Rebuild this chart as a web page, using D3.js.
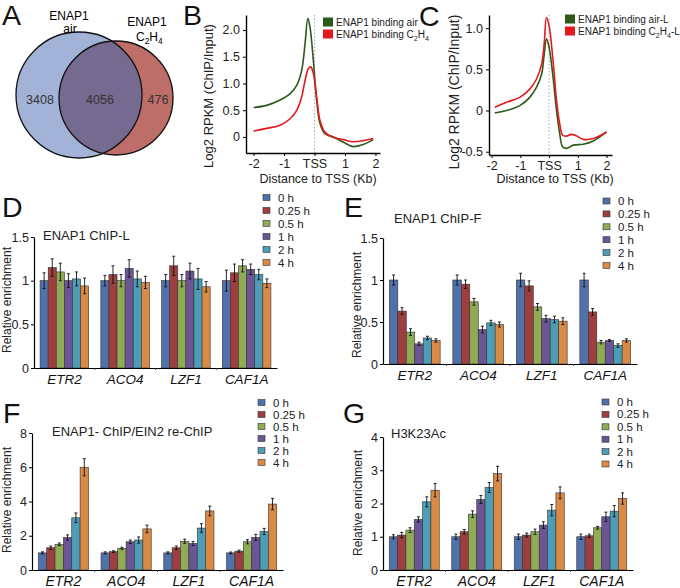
<!DOCTYPE html>
<html>
<head>
<meta charset="utf-8">
<script src="https://cdn.jsdelivr.net/npm/d3@7"></script>
<style>
  body { margin: 0; background: #fff; }
  svg { font-family: "Liberation Sans", Arial, sans-serif; }
</style>
</head>
<body>
<svg id="fig" width="680" height="588"></svg>
<script>
// ---- Daten ----
const vennCounts = [3408, 4056, 476];

// Profile B (Distanz zu TSS in kb, log2 RPKM)
const bPosAir = [-2.0, -1.57, -1.13, -0.8, -0.58, -0.42, -0.31, -0.22, -0.15, -0.04, 0.07, 0.18, 0.34, 0.62, 0.95, 1.27, 1.6, 1.93];
const bAir    = [0.55, 0.59, 0.69, 0.81, 0.97, 1.25, 1.75, 2.22, 2.06, 1.44, 0.69, 0.25, 0.06, 0.0, -0.1, -0.18, -0.14, -0.05];
const bPosEth = [-2.0, -1.57, -1.13, -0.8, -0.58, -0.42, -0.31, -0.2, -0.12, -0.04, 0.07, 0.18, 0.34, 0.62, 0.95, 1.27, 1.6, 1.93];
const bEth    = [0.11, 0.16, 0.22, 0.34, 0.5, 0.75, 1.06, 1.28, 1.31, 1.19, 0.75, 0.31, 0.09, -0.01, -0.05, -0.09, -0.07, -0.03];

// Profile C
const cPosAir = [-1.89, -1.48, -1.02, -0.67, -0.44, -0.26, -0.17, -0.09, 0.0, 0.14, 0.26, 0.37, 0.47, 0.61, 0.84, 1.19, 1.54, 2.0];
const cAir    = [-0.03, 0.0, 0.06, 0.16, 0.28, 0.44, 0.68, 0.87, 0.77, 0.4, 0.0, -0.28, -0.44, -0.46, -0.42, -0.41, -0.37, -0.26];
const cPosEth = [-1.89, -1.48, -1.02, -0.67, -0.44, -0.26, -0.17, -0.09, 0.0, 0.14, 0.26, 0.37, 0.47, 0.61, 0.78, 0.96, 1.19, 1.54, 2.0];
const cEth    = [0.04, 0.1, 0.16, 0.26, 0.38, 0.56, 0.81, 1.13, 1.03, 0.6, 0.12, -0.16, -0.3, -0.31, -0.29, -0.31, -0.35, -0.34, -0.26];

// Balken D–G
const genes = ["ETR2", "ACO4", "LZF1", "CAF1A"];
const times = ["0 h", "0.25 h", "0.5 h", "1 h", "2 h", "4 h"];
const timeColors = ["#5071a9", "#9e3e3e", "#8fab56", "#6b5594", "#4c9db5", "#d98b46"];

const dVals = [[1.0, 1.15, 1.1, 1.0, 1.02, 0.94], [1.0, 1.07, 1.0, 1.14, 1.02, 0.98], [1.0, 1.17, 1.0, 1.11, 1.02, 0.93], [1.0, 1.09, 1.17, 1.13, 1.07, 0.97]];
const dErr  = [[0.09, 0.1, 0.1, 0.08, 0.08, 0.09], [0.06, 0.1, 0.07, 0.1, 0.09, 0.07], [0.07, 0.11, 0.07, 0.09, 0.12, 0.06], [0.12, 0.1, 0.07, 0.06, 0.06, 0.05]];
const eVals = [[1.0, 0.63, 0.38, 0.24, 0.31, 0.28], [1.0, 0.95, 0.74, 0.41, 0.49, 0.47], [1.0, 0.93, 0.68, 0.54, 0.53, 0.51], [1.0, 0.62, 0.26, 0.28, 0.22, 0.28]];
const eErr  = [[0.06, 0.04, 0.04, 0.02, 0.02, 0.02], [0.06, 0.05, 0.04, 0.04, 0.03, 0.03], [0.08, 0.06, 0.04, 0.04, 0.04, 0.04], [0.08, 0.04, 0.02, 0.01, 0.02, 0.02]];
const fVals = [[1.0, 1.3, 1.5, 1.9, 3.05, 6.0], [1.0, 1.07, 1.27, 1.65, 1.75, 2.4], [1.0, 1.3, 1.68, 1.55, 2.45, 3.45], [1.0, 1.1, 1.65, 1.9, 2.25, 3.85]];
const fErr  = [[0.06, 0.1, 0.08, 0.15, 0.28, 0.5], [0.06, 0.05, 0.06, 0.1, 0.18, 0.22], [0.06, 0.1, 0.12, 0.12, 0.25, 0.28], [0.05, 0.06, 0.12, 0.18, 0.18, 0.33]];
const gVals = [[1.0, 1.05, 1.2, 1.52, 2.05, 2.4], [1.0, 1.15, 1.68, 2.12, 2.48, 2.9], [1.0, 1.05, 1.15, 1.35, 1.8, 2.32], [1.0, 1.03, 1.27, 1.6, 1.77, 2.15]];
const gErr  = [[0.06, 0.08, 0.07, 0.08, 0.15, 0.2], [0.08, 0.07, 0.1, 0.12, 0.15, 0.22], [0.08, 0.06, 0.08, 0.1, 0.17, 0.18], [0.08, 0.05, 0.04, 0.14, 0.17, 0.17]];

const svg = d3.select("#fig");

// Text mit tiefgestellten Zeichen: parts = [[text, sub?], ...]
function chemText(sel, parts, size) {
    let shift = 0;
    parts.forEach(([t, sub]) => {
        const target = sub ? size * 0.3 : 0;
        sel.append("tspan")
            .attr("dy", target - shift)
            .attr("font-size", sub ? size * 0.7 : size)
            .text(t);
        shift = target;
    });
}

// Panel-Buchstaben
[["A", 2, 25], ["B", 183, 25], ["C", 419, 26], ["D", 2, 217], ["E", 344, 217], ["F", 3, 423], ["G", 343, 423]]
    .forEach(([t, x, y]) => svg.append("text").attr("x", x).attr("y", y)
        .attr("font-size", 28.5).attr("fill", "#111").text(t));

// ---- A: Venn ----
function renderVenn() {
    const g = svg.append("g");
    const blue = { cx: 79, cy: 95, r: 63 };
    const red = { cx: 116, cy: 98, r: 57 };
    g.append("clipPath").attr("id", "clipBlue")
        .append("circle").attr("cx", blue.cx).attr("cy", blue.cy).attr("r", blue.r);
    g.append("circle").attr("cx", blue.cx).attr("cy", blue.cy).attr("r", blue.r).attr("fill", "#a2b3d7");
    g.append("circle").attr("cx", red.cx).attr("cy", red.cy).attr("r", red.r).attr("fill", "#bd6e68");
    g.append("circle").attr("cx", red.cx).attr("cy", red.cy).attr("r", red.r)
        .attr("fill", "#756a8f").attr("clip-path", "url(#clipBlue)");
    [blue, red].forEach(c => g.append("circle").attr("cx", c.cx).attr("cy", c.cy).attr("r", c.r)
        .attr("fill", "none").attr("stroke", "#111").attr("stroke-width", 1.3));

    const numX = [40, 100, 158];
    vennCounts.forEach((v, i) => g.append("text").attr("x", numX[i]).attr("y", 104)
        .attr("text-anchor", "middle").attr("font-size", 12.5).attr("fill", "#333").text(v));

    g.append("text").attr("x", 69).attr("y", 20).attr("text-anchor", "middle").attr("font-size", 12).text("ENAP1");
    g.append("text").attr("x", 70).attr("y", 33).attr("text-anchor", "middle").attr("font-size", 12).text("air");
    g.append("text").attr("x", 147).attr("y", 26).attr("text-anchor", "middle").attr("font-size", 12).text("ENAP1");
    chemText(g.append("text").attr("x", 136).attr("y", 40.5).attr("font-size", 12),
        [["C", 0], ["2", 1], ["H", 0], ["4", 1]], 12);
}

// ---- B/C: Profile ----
function renderProfile(cfg) {
    const g = svg.append("g");
    const x = d3.scaleLinear().domain(cfg.xDom).range(cfg.xRange);
    const y = d3.scaleLinear().domain(cfg.yDom).range(cfg.yRange);

    g.append("line").attr("x1", x(0)).attr("x2", x(0))
        .attr("y1", cfg.yRange[1]).attr("y2", cfg.yRange[0])
        .attr("stroke", "#aaa").attr("stroke-dasharray", "1.5,2");

    const line = d3.line().x(d => x(d[0])).y(d => y(d[1])).curve(d3.curveCatmullRom.alpha(0.5));
    cfg.series.forEach(s => {
        g.append("path").datum(d3.zip(s.pos, s.vals))
            .attr("d", line).attr("fill", "none")
            .attr("stroke", s.color).attr("stroke-width", 1.6);
    });

    const xa = g.append("g").attr("transform", `translate(0,${cfg.yRange[0]})`)
        .call(d3.axisBottom(x).tickValues([-2, -1, 0, 1, 2]).tickFormat(d => d === 0 ? "TSS" : d)
            .tickSize(3).tickPadding(3).tickSizeOuter(0));
    const ya = g.append("g").attr("transform", `translate(${cfg.xRange[0]},0)`)
        .call(d3.axisLeft(y).tickValues(cfg.yTicks).tickFormat(d => d === 0 ? "0" : d.toFixed(1))
            .tickSize(3).tickPadding(3).tickSizeOuter(0));
    [xa, ya].forEach(a => {
        a.attr("font-size", 12.5).attr("font-family", null);
        a.selectAll("text").attr("fill", "#222");
        a.select(".domain").attr("stroke-width", 1.4);
    });

    g.append("text").attr("transform", `translate(${cfg.yLabelX},${cfg.yLabelY}) rotate(-90)`)
        .attr("text-anchor", "middle").attr("font-size", cfg.yLabelSize).attr("fill", "#222")
        .text("Log2 RPKM (ChIP/Input)");
    g.append("text").attr("x", cfg.xLabelX).attr("y", 183).attr("text-anchor", "middle")
        .attr("font-size", 12.5).attr("fill", "#222").text("Distance to TSS (Kb)");

    cfg.series.forEach((s, i) => {
        const ly = cfg.legendY + i * 12;
        g.append("rect").attr("x", cfg.legendX).attr("y", ly - 4.5).attr("width", 10).attr("height", 9).attr("fill", s.color);
        chemText(g.append("text").attr("x", cfg.legendX + 13).attr("y", ly + 3.5)
            .attr("font-size", 10).attr("fill", "#222"), s.label, 10);
    });
}

// ---- D–G: Balken ----
function renderBars(cfg) {
    const g = svg.append("g");
    const x0 = d3.scaleBand().domain(genes).range(cfg.xRange).paddingInner(0.2).paddingOuter(0.1);
    const x1 = d3.scaleBand().domain(times).range([0, x0.bandwidth()]);
    const y = d3.scaleLinear().domain([0, cfg.yMax]).range(cfg.yRange);

    const rows = [];
    genes.forEach((gene, gi) => times.forEach((t, ti) => rows.push({
        gene, t, ti, v: cfg.vals[gi][ti], e: cfg.errs[gi][ti]
    })));

    g.selectAll("rect.bar").data(rows).enter().append("rect")
        .attr("x", d => x0(d.gene) + x1(d.t))
        .attr("y", d => y(d.v))
        .attr("width", x1.bandwidth())
        .attr("height", d => y(0) - y(d.v))
        .attr("fill", d => timeColors[d.ti])
        .attr("stroke", "#333").attr("stroke-width", 0.6);

    const eb = g.selectAll("g.err").data(rows).enter().append("g")
        .attr("stroke", "#111").attr("stroke-width", 0.9);
    const cx = d => x0(d.gene) + x1(d.t) + x1.bandwidth() / 2;
    eb.append("line").attr("x1", cx).attr("x2", cx).attr("y1", d => y(d.v - d.e)).attr("y2", d => y(d.v + d.e));
    eb.append("line").attr("x1", d => cx(d) - 1.5).attr("x2", d => cx(d) + 1.5).attr("y1", d => y(d.v + d.e)).attr("y2", d => y(d.v + d.e));
    eb.append("line").attr("x1", d => cx(d) - 1.5).attr("x2", d => cx(d) + 1.5).attr("y1", d => y(d.v - d.e)).attr("y2", d => y(d.v - d.e));

    // x-Achse mit kleinen Markierungen zwischen den Gruppen
    const xa = g.append("g").attr("transform", `translate(0,${y(0)})`)
        .call(d3.axisBottom(x0).tickSize(0).tickPadding(6).tickSizeOuter(0));
    xa.attr("font-size", cfg.geneSize).attr("font-family", null);
    xa.select(".domain").attr("stroke-width", 1.2);
    xa.selectAll("text").attr("font-style", "italic").attr("fill", "#111");
    genes.slice(1).forEach(gn => {
        const bx = x0(gn) - x0.step() * x0.paddingInner() / 2;
        g.append("line").attr("x1", bx).attr("x2", bx).attr("y1", y(0)).attr("y2", y(0) + 2)
            .attr("stroke", "#444").attr("stroke-width", 1);
    });

    const ya = g.append("g").attr("transform", `translate(${cfg.xRange[0]},0)`)
        .call(d3.axisLeft(y).tickValues(cfg.yTicks).tickFormat(d3.format("")).tickSize(3).tickPadding(2).tickSizeOuter(0));
    ya.attr("font-size", 12.5).attr("font-family", null);
    ya.select(".domain").attr("stroke-width", 1.2);
    ya.selectAll("text").attr("fill", "#222");

    g.append("text").attr("transform", `translate(${cfg.yLabelX},${cfg.yLabelY}) rotate(-90)`)
        .attr("text-anchor", "middle").attr("font-size", 12).attr("fill", "#222").text("Relative enrichment");
    g.append("text").attr("x", cfg.titleX).attr("y", cfg.titleY).attr("font-size", 13)
        .attr("fill", "#222").text(cfg.title);

    times.forEach((t, i) => {
        const ly = cfg.legendY + i * cfg.legendStep;
        g.append("rect").attr("x", cfg.legendX).attr("y", ly - 3).attr("width", 7).attr("height", 6)
            .attr("fill", timeColors[i]).attr("stroke", "#333").attr("stroke-width", 0.6);
        g.append("text").attr("x", cfg.legendX + 15).attr("y", ly + 4).attr("font-size", 11.5)
            .attr("fill", "#222").text(t);
    });
}

renderVenn();

renderProfile({
    xDom: [-2.25, 2.15], xRange: [246, 380], yDom: [-0.3, 2.28], yRange: [153, 15],
    yTicks: [0, 0.5, 1, 1.5, 2],
    series: [
        { pos: bPosAir, vals: bAir, color: "#2c5a1b", label: [["ENAP1 binding air", 0]] },
        { pos: bPosEth, vals: bEth, color: "#e5191c", label: [["ENAP1 binding C", 0], ["2", 1], ["H", 0], ["4", 1]] }
    ],
    yLabelX: 213, yLabelY: 96, yLabelSize: 13, xLabelX: 318, legendX: 323, legendY: 22
});

renderProfile({
    xDom: [-2.09, 2.19], xRange: [489, 612], yDom: [-0.54, 1.16], yRange: [155, 15],
    yTicks: [-0.5, 0, 0.5, 1],
    series: [
        { pos: cPosAir, vals: cAir, color: "#2c5a1b", label: [["ENAP1 binding air-L", 0]] },
        { pos: cPosEth, vals: cEth, color: "#e5191c", label: [["ENAP1 binding C", 0], ["2", 1], ["H", 0], ["4", 1], ["-L", 0]] }
    ],
    yLabelX: 459, yLabelY: 92, yLabelSize: 14, xLabelX: 555, legendX: 565, legendY: 19
});

renderBars({
    vals: dVals, errs: dErr, xRange: [34, 277], yMax: 1.5, yRange: [368, 237], yTicks: [0, 0.5, 1, 1.5],
    title: "ENAP1 ChIP-L", titleX: 43, titleY: 240, geneSize: 13.5,
    yLabelX: 11, yLabelY: 300, legendX: 263, legendY: 197.5, legendStep: 13
});
renderBars({
    vals: eVals, errs: eErr, xRange: [383, 637], yMax: 1.5, yRange: [364, 238], yTicks: [0, 0.5, 1, 1.5],
    title: "ENAP1 ChIP-F", titleX: 394, titleY: 223, geneSize: 13.5,
    yLabelX: 361, yLabelY: 305, legendX: 603, legendY: 201, legendStep: 12.9
});
renderBars({
    vals: fVals, errs: fErr, xRange: [32, 283], yMax: 8, yRange: [570, 433], yTicks: [0, 2, 4, 6, 8],
    title: "ENAP1- ChIP/EIN2 re-ChIP", titleX: 52, titleY: 436, geneSize: 14,
    yLabelX: 11, yLabelY: 500, legendX: 258, legendY: 402.5, legendStep: 12
});
renderBars({
    vals: gVals, errs: gErr, xRange: [383, 633], yMax: 4, yRange: [570, 437], yTicks: [0, 1, 2, 3, 4],
    title: "H3K23Ac", titleX: 391, titleY: 438, geneSize: 14,
    yLabelX: 362, yLabelY: 503, legendX: 602, legendY: 402, legendStep: 12.4
});
</script>
</body>
</html>
